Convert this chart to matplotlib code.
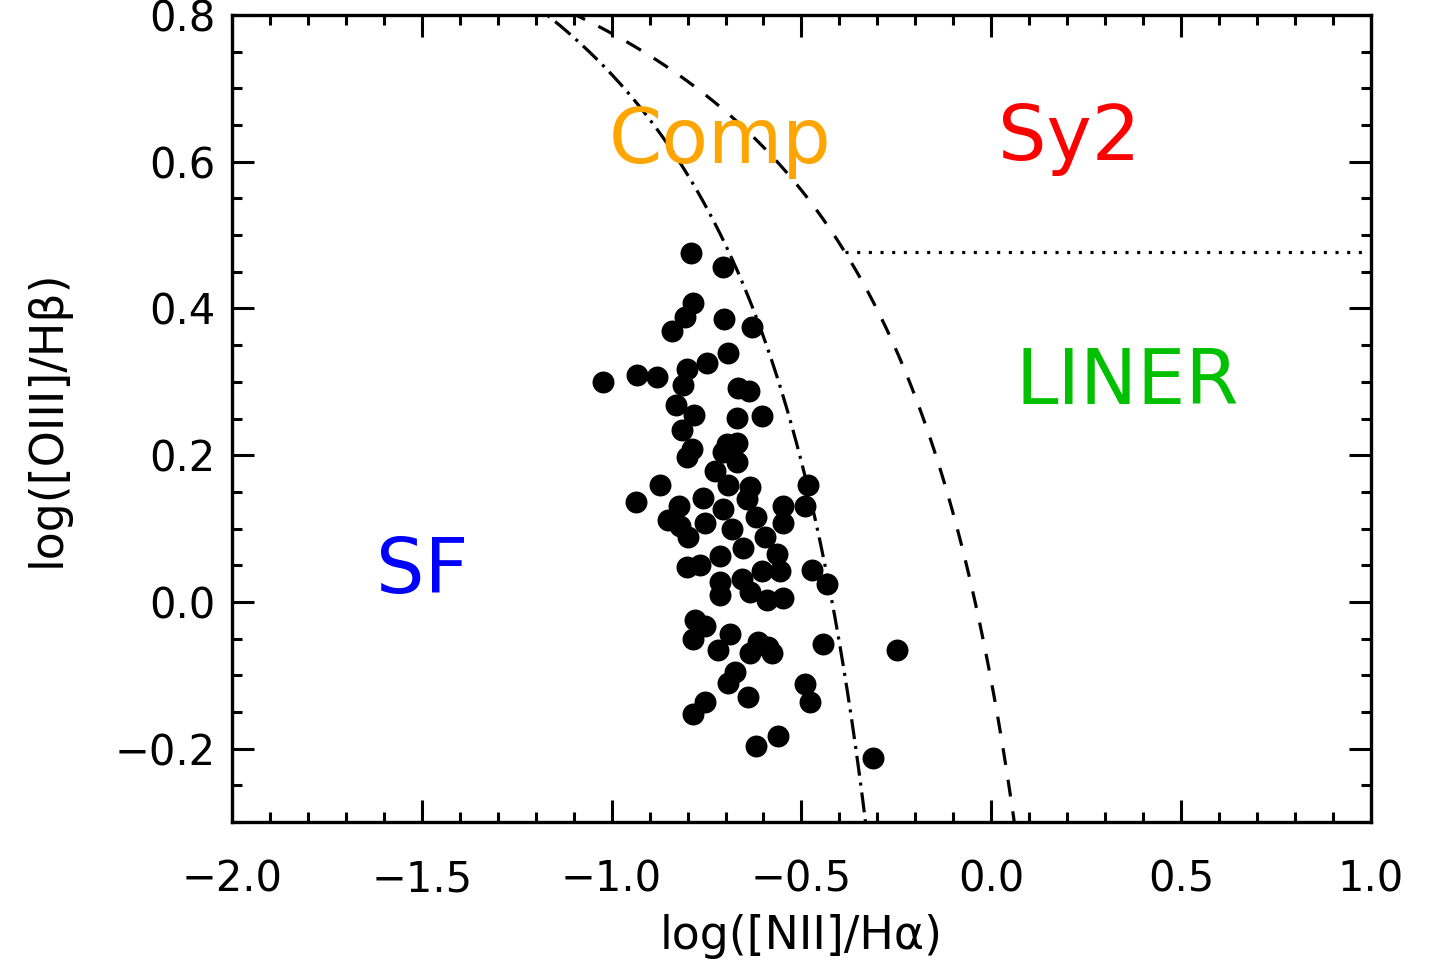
import numpy as np
import matplotlib
matplotlib.use("Agg")
import matplotlib.pyplot as plt
from matplotlib.ticker import MultipleLocator

plt.rcParams['font.family'] = ['DejaVu Sans']
plt.rcParams['lines.scale_dashes'] = False

# BPT diagram: log([NII]/Halpha) vs log([OIII]/Hbeta)
log_nii_ha = [
    -0.790, -0.706, -0.785, -0.806, -0.840, -0.703, -0.630, -0.693, -0.748, -0.801,
    -0.811, -1.022, -0.933, -0.880, -0.666, -0.638, -0.830, -0.782, -0.669, -0.603,
    -0.814, -0.788, -0.801, -0.695, -0.669, -0.706, -0.669, -0.727, -0.482, -0.872,
    -0.935, -0.693, -0.635, -0.759, -0.822, -0.706, -0.643, -0.548, -0.490, -0.851,
    -0.753, -0.682, -0.619, -0.548, -0.819, -0.798, -0.595, -0.653, -0.714, -0.564,
    -0.801, -0.767, -0.556, -0.472, -0.432, -0.714, -0.656, -0.635, -0.590, -0.548,
    -0.714, -0.780, -0.753, -0.785, -0.688, -0.719, -0.614, -0.587, -0.635, -0.577,
    -0.443, -0.248, -0.674, -0.693, -0.640, -0.490, -0.477, -0.753, -0.785, -0.619,
    -0.561, -0.311, -0.603,
]
log_oiii_hb = [
    0.475, 0.456, 0.408, 0.389, 0.369, 0.385, 0.375, 0.339, 0.325, 0.317,
    0.296, 0.300, 0.309, 0.307, 0.292, 0.287, 0.268, 0.255, 0.251, 0.253,
    0.235, 0.208, 0.198, 0.215, 0.217, 0.204, 0.191, 0.178, 0.160, 0.159,
    0.136, 0.160, 0.156, 0.141, 0.131, 0.127, 0.140, 0.131, 0.131, 0.112,
    0.107, 0.100, 0.116, 0.108, 0.103, 0.089, 0.088, 0.074, 0.062, 0.065,
    0.048, 0.051, 0.042, 0.044, 0.025, 0.027, 0.031, 0.014, 0.003, 0.005,
    0.010, -0.024, -0.033, -0.051, -0.044, -0.065, -0.055, -0.061, -0.069, -0.069,
    -0.058, -0.065, -0.095, -0.110, -0.129, -0.112, -0.136, -0.136, -0.153, -0.197,
    -0.183, -0.213, 0.042,
]

# Demarcation parameters
kauffmann_coef = [0.61, 0.05, 1.30]   # y = a / (x - b) + c
kewley_coef = [0.61, 0.47, 1.19]
liner_sy2_level = 0.477

region_labels = ["Comp", "Sy2", "LINER", "SF"]
region_colors = ["#FFA500", "#FF0000", "#00C000", "#0000FF"]
region_pos = [(-1.008, 0.598), (0.018, 0.603), (0.063, 0.270), (-1.621, 0.012)]

x_ticks = [-2.0, -1.5, -1.0, -0.5, 0.0, 0.5, 1.0]
y_ticks = [-0.2, 0.0, 0.2, 0.4, 0.6, 0.8]

fig = plt.figure(figsize=(14.3, 9.63), dpi=100)
ax = fig.add_axes([0.1622, 0.1464, 0.7965, 0.838])
ax.set_xlim(-2.0, 1.0)
ax.set_ylim(-0.3, 0.8)

lw = 2.3
# Kauffmann et al. (2003) line
xk = np.linspace(-2.0, kauffmann_coef[1] - 0.01, 800)
yk = kauffmann_coef[0] / (xk - kauffmann_coef[1]) + kauffmann_coef[2]
ax.plot(xk, yk, color='black', lw=lw, dashes=(14.4, 5.0, 2.2, 5.0),
        solid_capstyle='butt', dash_capstyle='butt')

# Kewley et al. (2001) line
xw = np.linspace(-2.0, kewley_coef[1] - 0.01, 800)
yw = kewley_coef[0] / (xw - kewley_coef[1]) + kewley_coef[2]
ax.plot(xw, yw, color='black', lw=lw, dashes=(12.2, 10.8), dash_capstyle='butt')

# LINER / Seyfert division, starting on the Kewley curve
x_start = kewley_coef[1] + kewley_coef[0] / (liner_sy2_level - kewley_coef[2])
ax.plot([x_start, 1.0], [liner_sy2_level, liner_sy2_level], color='black', lw=lw,
        dashes=(2.2, 6.2), dash_capstyle='butt')

ax.plot(log_nii_ha, log_oiii_hb, 'o', color='black', markersize=15.8,
        markeredgewidth=0, zorder=5)

for lab, col, (tx, ty) in zip(region_labels, region_colors, region_pos):
    ax.text(tx, ty, lab, color=col, fontsize=55, ha='left', va='baseline')

ax.set_xticks(x_ticks)
ax.set_xticklabels([f"{v:.1f}".replace('-', '\u2212') for v in x_ticks])
ax.set_yticks(y_ticks)
ax.set_yticklabels([f"{v:.1f}".replace('-', '\u2212') for v in y_ticks])
ax.xaxis.set_minor_locator(MultipleLocator(0.1))
ax.yaxis.set_minor_locator(MultipleLocator(0.05))
ax.tick_params(which='both', direction='in', top=True, right=True, width=2.2)
ax.tick_params(which='major', length=15.5)
ax.tick_params(which='minor', length=7.5)
ax.tick_params(axis='x', which='major', labelsize=30, pad=26)
ax.tick_params(axis='y', which='major', labelsize=30, pad=12)
for s in ax.spines.values():
    s.set_linewidth(2.4)

ax.set_xlabel("log([NII]/H\u03b1)", fontsize=33, labelpad=10)
ax.set_ylabel("log([OIII]/H\u03b2)", fontsize=33, labelpad=32)

fig.savefig("out.png", dpi=100)
